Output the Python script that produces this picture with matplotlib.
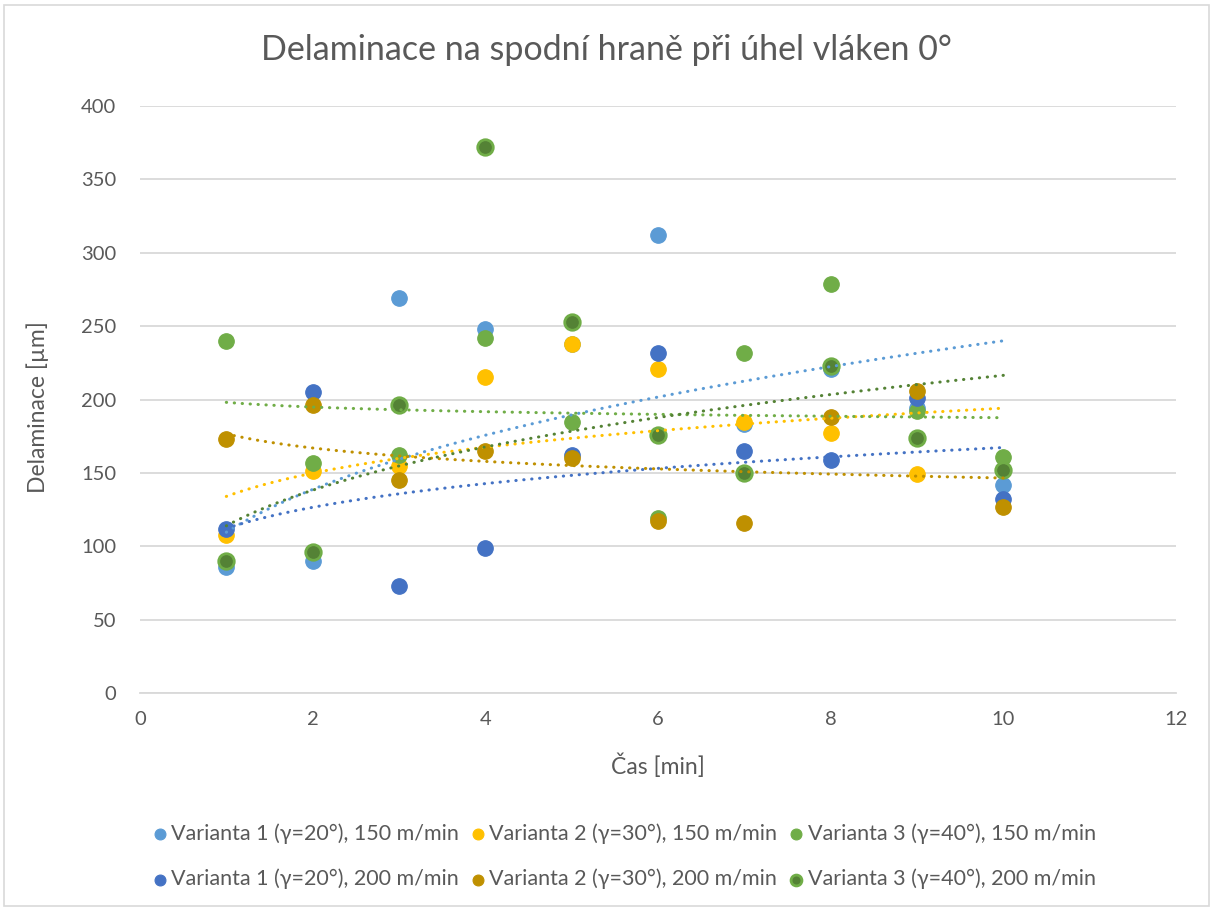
import numpy as np
import matplotlib
matplotlib.use("Agg")
import matplotlib.pyplot as plt
from matplotlib.patches import Rectangle

# cas [min]
x = [1, 2, 3, 4, 5, 6, 7, 8, 9, 10]

# delaminace [um]
v1_150 = [86, 90, 269, 248, 238, 312, 183, 221, 194, 142]
v2_150 = [108, 151, 155, 215, 238, 221, 185, 177, 149, 152]
v3_150 = [240, 157, 162, 242, 185, 119, 232, 279, 192, 161]
v1_200 = [112, 205, 73, 99, 162, 232, 165, 159, 201, 132]
v2_200 = [173, 196, 145, 165, 160, 117, 116, 188, 206, 127]
v3_200 = [90, 96, 196, 372, 253, 176, 150, 223, 174, 152]

labels = [
    "Varianta 1 (γ=20°), 150 m/min",
    "Varianta 2 (γ=30°), 150 m/min",
    "Varianta 3 (γ=40°), 150 m/min",
    "Varianta 1 (γ=20°), 200 m/min",
    "Varianta 2 (γ=30°), 200 m/min",
    "Varianta 3 (γ=40°), 200 m/min",
]
series = [v1_150, v2_150, v3_150, v1_200, v2_200, v3_200]
colors = ["#5B9BD5", "#FFC000", "#70AD47", "#4472C4", "#BF9000", "#548235"]
edges = ["#5B9BD5", "#FFC000", "#70AD47", "#4472C4", "#BF9000", "#70AD47"]

plt.rcParams["font.family"] = ["Lato", "DejaVu Sans"]
txt = "#595959"

fig = plt.figure(figsize=(12.13, 9.09), dpi=100)
ax = fig.add_axes([0.1154, 0.2376, 0.9695 - 0.1154, 0.8834 - 0.2376])

xs = np.array(x, dtype=float)
handles = []
for i, (ys, c, ec, lab) in enumerate(zip(series, colors, edges, labels)):
    lw = 2.0 if i == 5 else 0.8
    h = ax.scatter(xs, ys, s=125, color=c, edgecolors=ec, linewidths=lw,
                   zorder=3 + i * 0.01, label=lab)
    handles.append(h)

# mocninne spojnice trendu (jako v Excelu)
for i, (ys, c) in enumerate(zip(series, colors)):
    b, a = np.polyfit(np.log(xs), np.log(np.array(ys, dtype=float)), 1)
    xt = np.linspace(1, 10, 200)
    yt = np.exp(a) * xt ** b
    ax.plot(xt, yt, color=c, lw=2.2, linestyle=(0, (0.1, 2.5)),
            dash_capstyle="round", zorder=4 + i * 0.01)

ax.set_xlim(0, 12)
ax.set_ylim(0, 400)
ax.set_xticks(range(0, 13, 2))
ax.set_yticks(range(0, 401, 50))
ax.grid(axis="y", color="#D9D9D9", lw=1.3)
ax.set_axisbelow(True)
for s in ["top", "right", "left"]:
    ax.spines[s].set_visible(False)
ax.spines["bottom"].set_color("#D9D9D9")
ax.spines["bottom"].set_linewidth(1.3)
ax.tick_params(length=0, labelsize=14.5, labelcolor=txt)
ax.tick_params(axis="y", pad=17)
ax.tick_params(axis="x", pad=13)

fig.text(0.5, 0.945, "Delaminace na spodní hraně při úhel vláken 0°",
         ha="center", va="center", fontsize=24.5, color=txt)
fig.text(0.031, 0.552, "Delaminace [µm]", rotation=90, ha="center",
         va="center", fontsize=16.5, color=txt)
fig.text(0.5425, 0.158, "Čas [min]", ha="center", va="center",
         fontsize=16.5, color=txt)

order = [0, 3, 1, 4, 2, 5]
leg = fig.legend([handles[k] for k in order], [labels[k] for k in order],
                 ncol=3, loc="center", bbox_to_anchor=(0.513, 0.058),
                 frameon=False, fontsize=15.5, labelcolor=txt,
                 handletextpad=0.05, columnspacing=0.35, labelspacing=1.15,
                 markerscale=0.7, handlelength=1.0)

fig.add_artist(Rectangle((0.003, 0.003), 0.994, 0.992, transform=fig.transFigure,
                         fill=False, edgecolor="#D9D9D9", lw=1.2))

fig.savefig("out.png", dpi=100, facecolor="white")
